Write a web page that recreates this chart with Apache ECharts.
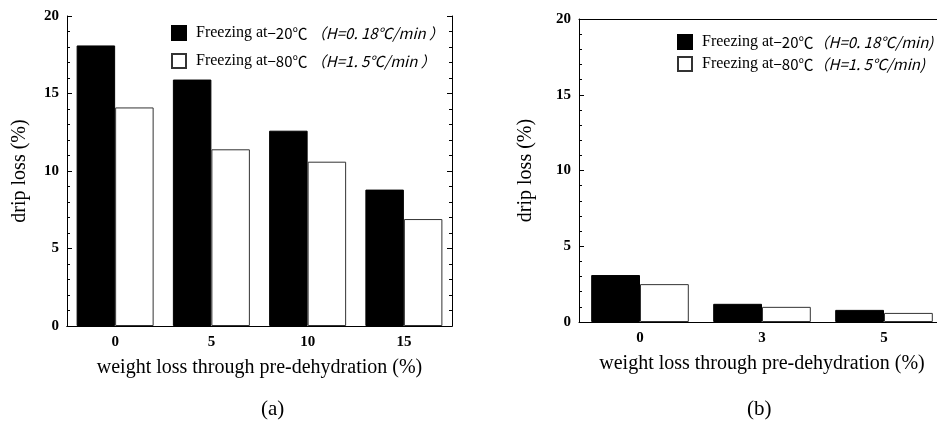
<!DOCTYPE html>
<html>
<head>
<meta charset="utf-8">
<script src="https://cdn.jsdelivr.net/npm/echarts@6/dist/echarts.min.js"></script>
<style>
  html, body { margin: 0; padding: 0; background: #fff; }
  #main { width: 937px; height: 425px; }
</style>
</head>
<body>
<div id="main"></div>
<script>
// panel (a)
var catsA = ['0', '5', '10', '15'];
var minus20A = [18.1, 15.9, 12.6, 8.8];
var minus80A = [14.1, 11.4, 10.6, 6.9];
// panel (b)
var catsB = ['0', '3', '5'];
var minus20B = [3.1, 1.2, 0.8];
var minus80B = [2.5, 1.0, 0.6];

var name20 = 'Freezing at -20℃ (H=0.18℃/min)';
var name80 = 'Freezing at -80℃ (H=1.5℃/min)';

var serif = '"Liberation Serif", "Times New Roman", serif';
var cjk = '"Noto Sans CJK JP", "DejaVu Sans", sans-serif';

var myChart = echarts.init(document.getElementById('main'), null, { renderer: 'canvas' });

function bottomAxis(grid, cats) {
  return {
    type: 'category', gridIndex: grid, data: cats, position: 'bottom',
    axisLine: { lineStyle: { color: '#000', width: 1 } },
    axisTick: { inside: true, length: 6, lineStyle: { color: '#000' } },
    axisLabel: { color: '#000', fontFamily: serif, fontWeight: 'bold', fontSize: 15, margin: 9 },
    name: 'weight loss through pre-dehydration (%)',
    nameLocation: 'middle', nameGap: 32,
    nameTextStyle: { color: '#000', fontFamily: serif, fontSize: 20 }
  };
}
function topAxis(grid, cats) {
  return {
    type: 'category', gridIndex: grid, data: cats, position: 'top',
    axisLine: { lineStyle: { color: '#000', width: 1 } },
    axisTick: { inside: true, length: 6, lineStyle: { color: '#000' } },
    axisLabel: { show: false }
  };
}
function valueAxis(grid, pos, labels, gap) {
  var ax = {
    type: 'value', gridIndex: grid, position: pos,
    min: 0, max: 20, interval: 5,
    splitLine: { show: false },
    axisLine: { show: true, lineStyle: { color: '#000', width: 1 } },
    axisTick: { show: true, inside: true, length: 5, lineStyle: { color: '#000' } },
    minorTick: { show: true, splitNumber: 5, length: 3, lineStyle: { color: '#000' } },
    axisLabel: { show: labels, color: '#000', fontFamily: serif, fontWeight: 'bold', fontSize: 15, margin: 8 }
  };
  if (labels) {
    ax.name = 'drip loss (%)';
    ax.nameLocation = 'middle';
    ax.nameGap = gap;
    ax.nameTextStyle = { color: '#000', fontFamily: serif, fontSize: 20 };
  }
  return ax;
}

function legendText(name) {
  if (name === name20) return '{a|Freezing at}{b|−20℃}{c| （H=0. 18℃/min ）}';
  return '{a|Freezing at}{b|−80℃}{c| （H=1. 5℃/min ）}';
}
function legendTextB(name) {
  if (name === name20) return '{a|Freezing at}{b|−20℃}{c|（H=0. 18℃/min)}';
  return '{a|Freezing at}{b|−80℃}{c|（H=1. 5℃/min)}';
}
var legendRich = {
  a: { fontFamily: serif, fontSize: 16, color: '#000', padding: [0, 0, 0, 5] },
  b: { fontFamily: cjk, fontSize: 15, color: '#000' },
  c: { fontFamily: cjk, fontSize: 15, fontStyle: 'italic', color: '#000' }
};

var blackStyle = { color: '#000', borderColor: '#000', borderWidth: 1 };
var whiteStyle = { color: '#fff', borderColor: '#333', borderWidth: 1 };

var option = {
  backgroundColor: '#fff',
  animation: false,
  title: [
    { text: '(a)', left: 256, top: 394, textStyle: { fontFamily: serif, fontSize: 21, fontWeight: 'normal', color: '#000' } },
    { text: '(b)', left: 742, top: 394, textStyle: { fontFamily: serif, fontSize: 21, fontWeight: 'normal', color: '#000' } }
  ],
  grid: [
    { left: 67, top: 16, width: 385, height: 310, outerBoundsMode: 'none' },
    { left: 579, top: 19, width: 366, height: 303, outerBoundsMode: 'none' }
  ],
  legend: [
    {
      orient: 'vertical', left: 171, top: 25, padding: 0, itemWidth: 14, itemHeight: 14, itemGap: 12,
      icon: 'rect', data: [name20, name80], formatter: legendText,
      textStyle: { rich: legendRich }
    },
    {
      orient: 'vertical', left: 677, top: 34, padding: 0, itemWidth: 14, itemHeight: 14, itemGap: 6,
      icon: 'rect', data: [name20, name80], formatter: legendTextB,
      textStyle: { rich: legendRich }
    }
  ],
  xAxis: [
    bottomAxis(0, catsA),
    topAxis(0, catsA),
    bottomAxis(1, catsB),
    topAxis(1, catsB)
  ],
  yAxis: [
    valueAxis(0, 'left', true, 37),
    valueAxis(0, 'right', false),
    valueAxis(1, 'left', true, 43)
  ],
  series: [
    { name: name20, type: 'bar', xAxisIndex: 0, yAxisIndex: 0, data: minus20A,
      barGap: '0%', barCategoryGap: '20%', itemStyle: blackStyle },
    { name: name80, type: 'bar', xAxisIndex: 0, yAxisIndex: 0, data: minus80A,
      barGap: '0%', barCategoryGap: '20%', itemStyle: whiteStyle },
    { name: name20, type: 'bar', xAxisIndex: 2, yAxisIndex: 2, data: minus20B,
      barGap: '0%', barCategoryGap: '20%', itemStyle: blackStyle },
    { name: name80, type: 'bar', xAxisIndex: 2, yAxisIndex: 2, data: minus80B,
      barGap: '0%', barCategoryGap: '20%', itemStyle: whiteStyle }
  ]
};
myChart.setOption(option);
</script>
</body>
</html>
